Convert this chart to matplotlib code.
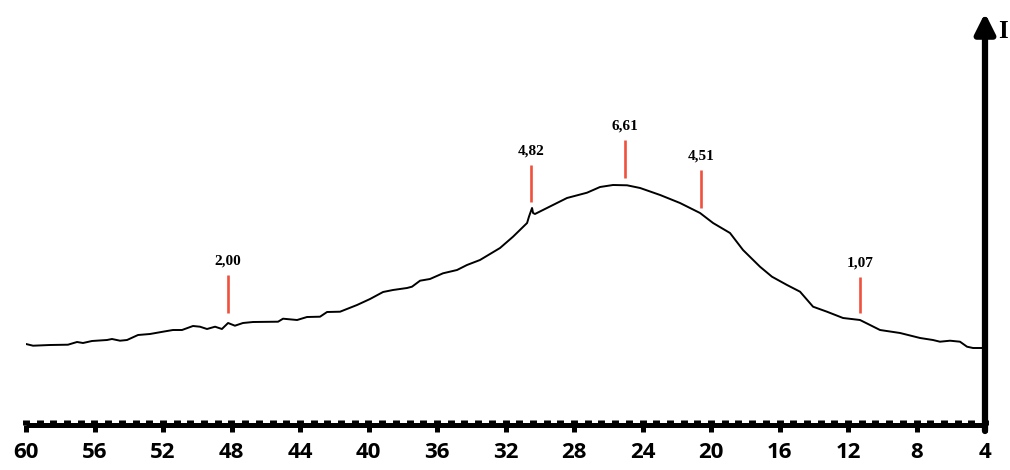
import matplotlib.pyplot as plt
from matplotlib.ticker import MultipleLocator

# retention time (min) and detector signal
rt = [60.0, 59.59, 58.60, 57.55, 57.02, 56.67, 56.15, 55.27, 54.98, 54.51,
      54.10, 53.46, 52.76, 52.00, 51.42, 50.89, 50.25, 49.84, 49.43, 48.96,
      48.56, 48.20, 47.80, 47.33, 46.74, 45.28, 44.99, 44.17, 43.59, 42.83,
      42.42, 41.66, 40.67, 39.91, 39.15, 38.57, 37.75, 37.46, 36.99, 36.41,
      35.65, 34.83, 34.25, 33.49, 32.32, 31.56, 30.74, 30.63, 30.45, 30.39,
      30.28, 29.58, 28.41, 27.24, 26.48, 25.72, 24.90, 24.14, 22.97, 21.81,
      20.64, 19.88, 18.89, 18.13, 17.14, 16.44, 15.56, 14.80, 14.04, 13.23,
      12.29, 11.30, 10.83, 10.13, 8.96, 7.79, 7.04, 6.63, 6.04, 5.46,
      5.05, 4.70, 4.12]
signal = [81, 79.3, 80, 80.3, 83, 82, 84, 85, 86, 84.3,
          85, 90, 91, 93.3, 95, 95, 99, 98.3, 96, 98.3,
          96, 102, 99.3, 102, 103, 103.3, 106.3, 105, 108, 108.3,
          113, 113.3, 120, 126, 133, 135, 137, 138.3, 144.3, 146,
          151.7, 155, 160, 165, 177, 188.3, 202, 208.3, 217, 212,
          211, 217, 227, 232.3, 238, 240, 239.7, 237, 230, 222,
          212, 202, 192, 175, 158.3, 148.3, 140, 133.3, 118.3, 113.3,
          107, 105, 101, 95, 92, 87, 85, 83.3, 84.3, 83.3,
          78.3, 77, 77]

# marked fractions
peak_rt = [48.2, 30.5, 25.0, 20.6, 11.3]
peak_labels = ["2,00", "4,82", "6,61", "4,51", "1,07"]
mark_low = [112, 223, 247, 217, 112]
mark_high = [150, 260, 285, 255, 148]

xticks = list(range(60, 3, -4))

fig = plt.figure(figsize=(10.1, 4.7), dpi=100)
ax = fig.add_axes([26 / 1010, 45 / 470, 959 / 1010, 410 / 470])

ax.plot(rt, signal, color="black", lw=1.4)

for x, lab, lo, hi in zip(peak_rt, peak_labels, mark_low, mark_high):
    ax.plot([x, x], [lo, hi], color="#f0503c", lw=1.9, solid_capstyle="butt")
    ax.text(x, hi + 7, lab, ha="center", va="bottom", fontsize=11,
            fontweight="bold", family="Liberation Serif")

ax.set_xlim(60, 4)
ax.set_ylim(0, 410)

for s in ["top", "left", "right"]:
    ax.spines[s].set_visible(False)
ax.spines["bottom"].set_linewidth(3.6)
ax.spines["bottom"].set_capstyle("butt")

ax.set_yticks([])
ax.set_xticks(xticks)
ax.xaxis.remove_overlapping_locs = False
ax.xaxis.set_minor_locator(MultipleLocator(0.8))
ax.tick_params(axis="x", which="major", direction="out", length=5,
               width=3.6, pad=7)
ax.tick_params(axis="x", which="minor", direction="in", length=3.4,
               width=5)
for lbl in ax.get_xticklabels():
    lbl.set_fontfamily("Open Sans")
    lbl.set_fontweight("bold")
    lbl.set_fontsize(16)

# vertical axis with arrow head
ax.annotate("", xy=(4, 412), xytext=(4, -6),
            arrowprops=dict(arrowstyle="-|>", lw=4.5, color="black",
                            mutation_scale=30, shrinkA=0, shrinkB=0),
            annotation_clip=False)
fig.text(998 / 1010, 1 - 31 / 470, "I", fontsize=18, fontweight="bold",
         family="Liberation Serif", va="center", ha="left")

fig.savefig("out.png", dpi=100)
